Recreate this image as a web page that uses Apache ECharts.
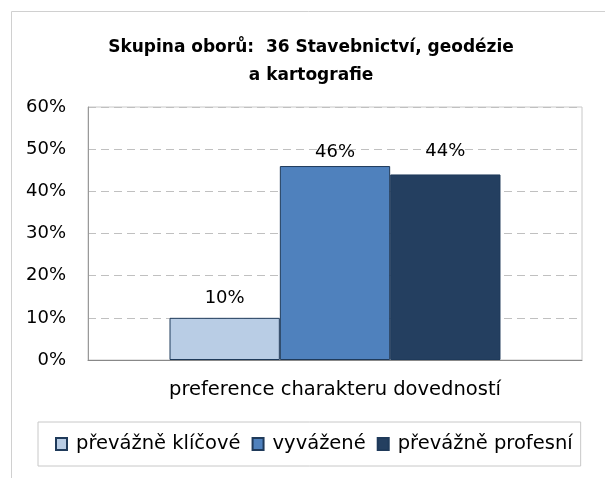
<!DOCTYPE html>
<html>
<head>
<meta charset="utf-8">
<script src="https://cdn.jsdelivr.net/npm/echarts@6/dist/echarts.min.js"></script>
<style>
  html, body { margin: 0; padding: 0; background: #fff; }
  #chart { width: 605px; height: 478px; }
</style>
</head>
<body>
<div id="chart"></div>
<script>
const categories = ["preference charakteru dovedností"];
const seriesNames = ["převážně klíčové", "vyvážené", "převážně profesní"];
const seriesValues = [10, 46, 44];
const seriesColors = ["#b9cde5", "#4f81bd", "#243f60"];
const labelDistance = [11, 5, 14];
const yTicks = [0, 10, 20, 30, 40, 50, 60];

const chart = echarts.init(document.getElementById("chart"));
const font = "DejaVu Sans";

const option = {
  animation: false,
  backgroundColor: "#fff",
  title: {
    text: "Skupina oborů:  36 Stavebnictví, geodézie\na kartografie",
    left: 306,
    textAlign: "center",
    top: 29,
    textStyle: {
      fontFamily: font,
      fontWeight: "bold",
      fontSize: 17,
      color: "#000",
      lineHeight: 28
    }
  },
  graphic: [{
    type: "rect",
    left: 9,
    top: 9,
    shape: { width: 700, height: 600 },
    style: { fill: "none", stroke: "#d0d0d0", lineWidth: 1 },
    z: -1
  }],
  grid: {
    left: 88,
    right: 23,
    top: 107,
    bottom: 118,
    show: true,
    borderColor: "#c8c8c8",
    borderWidth: 1,
    backgroundColor: "#fff"
  },
  legend: {
    left: 38,
    top: 422,
    orient: "horizontal",
    data: seriesNames,
    itemWidth: 11,
    itemHeight: 12,
    itemGap: 11,
    padding: [12, 8, 12, 17],
    borderColor: "#c8c8c8",
    borderWidth: 1,
    icon: "rect",
    textStyle: { fontFamily: font, fontSize: 19.5, color: "#000", padding: [0, 0, 0, 4] }
  },
  xAxis: {
    type: "category",
    data: categories,
    axisLine: { lineStyle: { color: "#888", width: 1 } },
    axisTick: { show: false },
    axisLabel: { fontFamily: font, fontSize: 19.5, color: "#000", margin: 20 }
  },
  yAxis: {
    type: "value",
    min: yTicks[0],
    max: yTicks[yTicks.length - 1],
    interval: 10,
    axisLine: { show: true, lineStyle: { color: "#999" } },
    axisTick: { show: false },
    axisLabel: {
      fontFamily: font,
      fontSize: 18,
      color: "#000",
      margin: 22,
      formatter: v => v + "%"
    },
    splitLine: {
      show: true,
      lineStyle: { color: "#c0c0c0", type: [8, 5], width: 1 }
    }
  },
  series: seriesNames.map((name, i) => ({
    name,
    type: "bar",
    data: [seriesValues[i]],
    barGap: "0%",
    barCategoryGap: "33%",
    itemStyle: {
      color: seriesColors[i],
      borderColor: "#1f3a5a",
      borderWidth: 1
    },
    label: {
      show: true,
      position: "top",
      distance: labelDistance[i],
      fontFamily: font,
      fontSize: 18,
      color: "#000",
      formatter: p => p.value + "%"
    }
  }))
};

chart.setOption(option);
</script>
</body>
</html>
